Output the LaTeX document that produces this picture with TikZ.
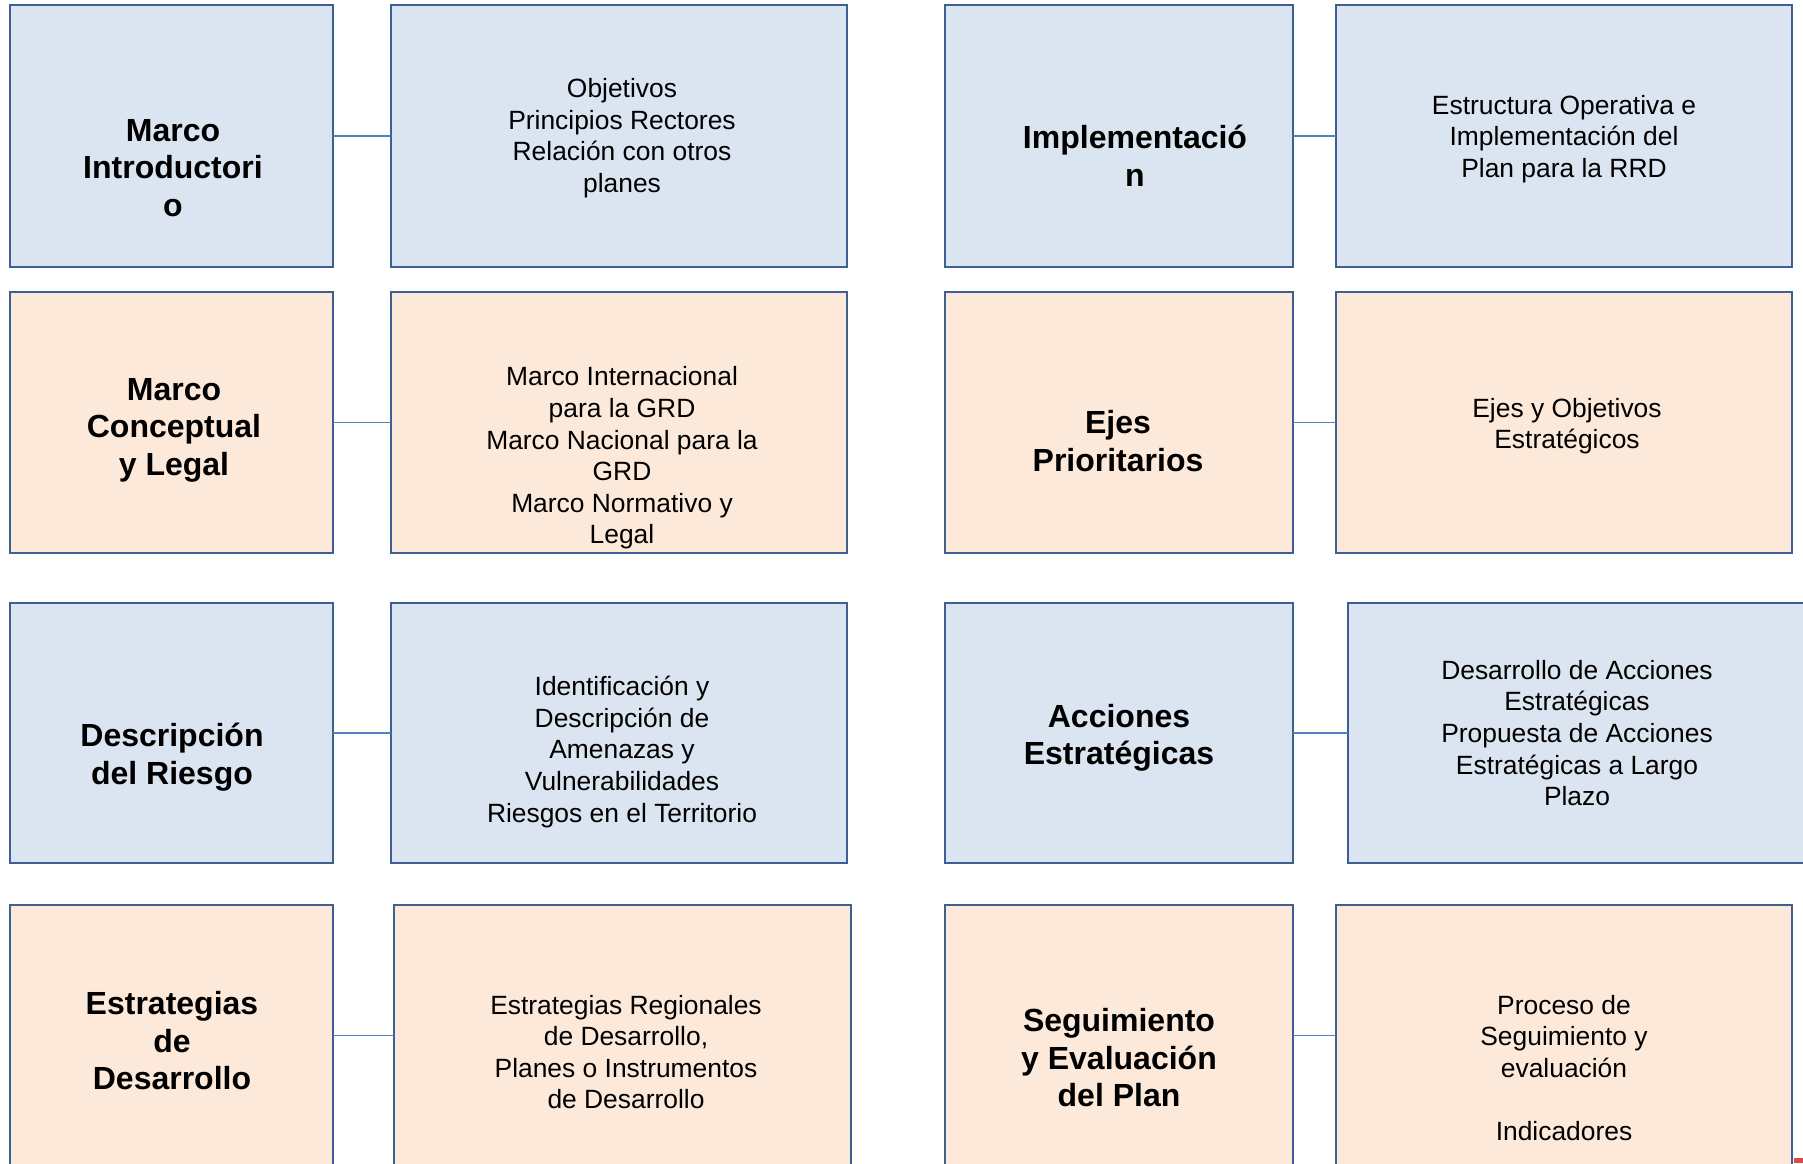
\documentclass[tikz,border=0pt]{standalone}
\usepackage{fontspec}
\setmainfont{Liberation Sans}
\usetikzlibrary{fit}
\definecolor{bluefill}{HTML}{DBE5F1}
\definecolor{peachfill}{HTML}{FDE9D9}
\definecolor{boxline}{HTML}{3D6090}
\definecolor{conline}{HTML}{4F81BD}
\definecolor{redbit}{HTML}{E04848}
\tikzset{
  box/.style={draw=boxline, line width=1.1pt, inner sep=0pt, outer sep=0pt, rectangle},
  bluebox/.style={box, fill=bluefill},
  peachbox/.style={box, fill=peachfill},
  titletext/.style={align=center, inner sep=0pt, font=\fontsize{16}{18.75}\selectfont\bfseries},
  bodytext/.style={align=center, inner sep=0pt, font=\fontsize{13.2}{15.8}\selectfont},
  conn/.style={draw=conline, line width=0.8pt}
}
\begin{document}
\begin{tikzpicture}[x=0.5pt,y=-0.5pt]
\useasboundingbox (0,0) rectangle (1803,1163);
\clip (0,0) rectangle (1803,1163);
% row 1
\node[bluebox, fit={(10,5) (333,267)}] (b11) {};
\node[bluebox, fit={(391,5) (847,267)}] (b12) {};
\node[bluebox, fit={(945,5) (1293,267)}] (b13) {};
\node[bluebox, fit={(1336,5) (1792,267)}] (b14) {};
% row 2
\node[peachbox, fit={(10,292) (333,553)}] (b21) {};
\node[peachbox, fit={(391,292) (847,553)}] (b22) {};
\node[peachbox, fit={(945,292) (1293,553)}] (b23) {};
\node[peachbox, fit={(1336,292) (1792,553)}] (b24) {};
% row 3
\node[bluebox, fit={(10,603) (333,863)}] (b31) {};
\node[bluebox, fit={(391,603) (847,863)}] (b32) {};
\node[bluebox, fit={(945,603) (1293,863)}] (b33) {};
\node[bluebox, fit={(1348,603) (1812,863)}] (b34) {};
% row 4
\node[peachbox, fit={(10,905) (333,1166)}] (b41) {};
\node[peachbox, fit={(394,905) (851,1166)}] (b42) {};
\node[peachbox, fit={(945,905) (1293,1166)}] (b43) {};
\node[peachbox, fit={(1336,905) (1792,1166)}] (b44) {};
% connectors
\draw[conn] (b11.east) -- (b12.west);
\draw[conn] (b13.east) -- (b14.west);
\draw[conn] (b21.east) -- (b22.west);
\draw[conn] (b23.east) -- (b24.west);
\draw[conn] (b31.east) -- (b32.west);
\draw[conn] (b33.east) -- (b34.west);
\draw[conn] (b41.east) -- (b42.west);
\draw[conn] (b43.east) -- (b44.west);
% texts
\node[titletext] (t11) at (173,168) {Marco\\Introductori\\o};
\node[bodytext] (t12) at (622,138) {Objetivos\\Principios Rectores\\Relación con otros\\planes};
\node[titletext] (t13) at (1135,156) {Implementació\\n};
\node[bodytext] (t14) at (1564,139) {Estructura Operativa e\\Implementación del\\Plan para la RRD};
\node[titletext] (t21) at (174,430) {Marco\\Conceptual\\y Legal};
\node[bodytext] (t22) at (622,458) {Marco Internacional\\para la GRD\\Marco Nacional para la\\GRD\\Marco Normativo y\\Legal};
\node[titletext] (t23) at (1118,441) {Ejes\\Prioritarios};
\node[bodytext] (t24) at (1567,426) {Ejes y Objetivos\\Estratégicos};
\node[titletext] (t31) at (172,757) {Descripción\\del Riesgo};
\node[bodytext] (t32) at (622,752) {Identificación y\\Descripción de\\Amenazas y\\Vulnerabilidades\\Riesgos en el Territorio};
\node[titletext] (t33) at (1119,738) {Acciones\\Estratégicas};
\node[bodytext] (t34) at (1577,733) {Desarrollo de Acciones\\Estratégicas\\Propuesta de Acciones\\Estratégicas a Largo\\Plazo};
\node[titletext] (t41) at (172,1041) {Estrategias\\de\\Desarrollo};
\node[bodytext] (t42) at (626,1052) {Estrategias Regionales\\de Desarrollo,\\Planes o Instrumentos\\de Desarrollo};
\node[titletext] (t43) at (1119,1058) {Seguimiento\\y Evaluación\\del Plan};
\node[bodytext] (t44) at (1564,1068) {Proceso de\\Seguimiento y\\evaluación\\\mbox{}\\Indicadores};
% small red corner fragment
\fill[redbit] (1794,1158) rectangle (1803,1163);
\end{tikzpicture}
\end{document}
